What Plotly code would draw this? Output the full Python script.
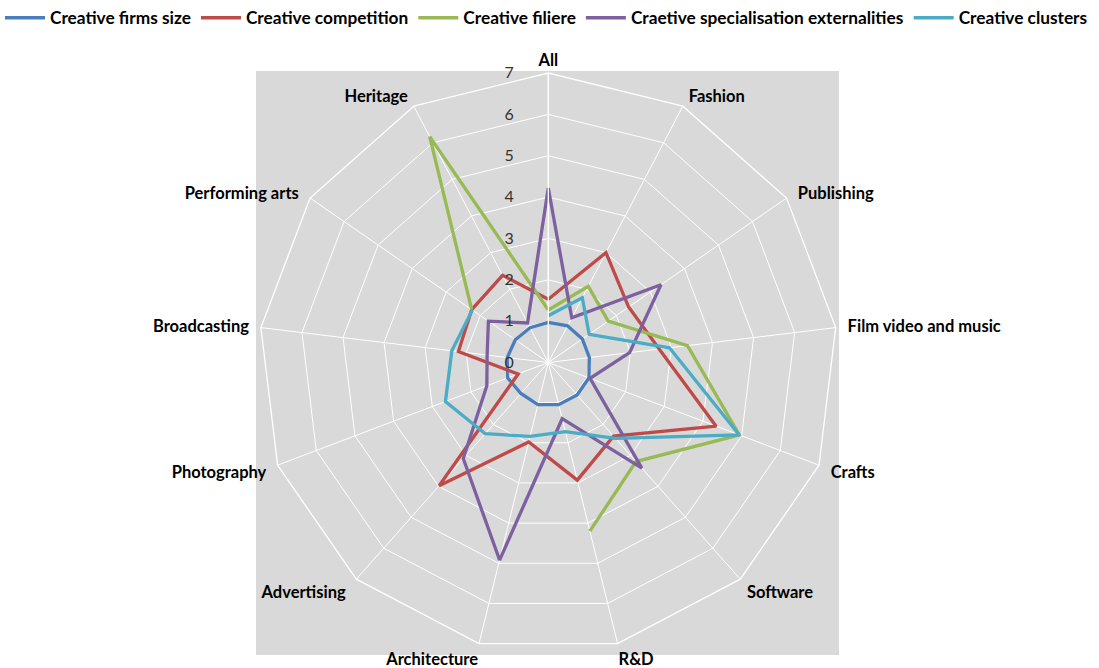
import plotly.graph_objects as go

categories = ["All", "Fashion", "Publishing", "Film video and music", "Crafts", "Software",
              "R&D", "Architecture", "Advertising", "Photography", "Broadcasting",
              "Performing arts", "Heritage"]

firms_size = [0.97, 1.0, 1.0, 1.0, 1.05, 1.05, 1.05, 1.05, 1.0, 1.05, 1.0, 0.97, 0.95]
competition = [1.53, 3.0, 2.36, 2.7, 4.34, 2.38, 2.93, 1.98, 3.98, 0.78, 2.19, 2.25, 2.38]
filiere = [1.27, 2.08, 1.76, 3.39, 4.94, 3.2, 4.2, None, None, None, None, 2.25, 6.17]
specialisation = [4.22, 1.22, 3.31, 1.98, 1.08, 3.41, 1.40, 4.92, 3.10, 1.59, 1.49, 1.76, 1.08]
clusters = [1.13, 1.77, 1.2, 2.95, 4.94, 2.45, 1.72, 1.84, 2.3, 2.66, 2.35, 2.23, None]

series_names = ["Creative firms size", "Creative competition", "Creative filiere",
                "Craetive specialisation externalities", "Creative clusters"]
series_values = [firms_size, competition, filiere, specialisation, clusters]
colors = ["#4A7EBB", "#BE4B48", "#98B954", "#7D60A0", "#4BACC6"]

radial_ticks = [0, 1, 2, 3, 4, 5, 6, 7]

# label padding (non-breaking spaces) so labels sit a little away from the web like Excel
NB = "\u00a0"
pad_right = {"Fashion": 1, "Publishing": 2, "Film video and music": 2, "Crafts": 2,
             "Software": 1, "R&D": 0}
pad_left = {"Heritage": 1, "Performing arts": 2, "Broadcasting": 2, "Photography": 2,
            "Advertising": 2, "Architecture": 0}
tick_text = []
for c in categories:
    if c in pad_right:
        tick_text.append(NB * pad_right[c] + c)
    elif c in pad_left:
        tick_text.append(c + NB * pad_left[c])
    else:
        tick_text.append(c)

radial_text = [str(v) + NB * 4 for v in radial_ticks]

fig = go.Figure()
for name, vals, col in zip(series_names, series_values, colors):
    r = list(vals) + [vals[0]]
    th = categories + [categories[0]]
    fig.add_trace(go.Scatterpolar(
        r=r, theta=th, mode="lines", name=name,
        line=dict(color=col, width=3.3),
        connectgaps=False,
    ))

W, H = 1099, 668
cx, cy, R = 548.3, 362.5, 289.5
fig.add_shape(type="rect", xref="paper", yref="paper",
              x0=256 / W, x1=839 / W, y0=1 - 655 / H, y1=1 - 71 / H,
              fillcolor="#D9D9D9", line=dict(width=0), layer="below")

fig.update_layout(
    width=W, height=H,
    margin=dict(l=0, r=0, t=0, b=0),
    paper_bgcolor="white",
    plot_bgcolor="white",
    font=dict(family="Lato", size=14, color="black"),
    showlegend=True,
    legend=dict(orientation="h", x=0.0, y=1.0, xanchor="left", yanchor="top",
                font=dict(family="Lato", size=17.3, color="black", weight="bold"),
                itemwidth=40, tracegroupgap=0, bgcolor="rgba(0,0,0,0)"),
    polar=dict(
        domain=dict(x=[(cx - R) / W, (cx + R) / W], y=[1 - (cy + R) / H, 1 - (cy - R) / H]),
        bgcolor="#D9D9D9",
        gridshape="linear",
        angularaxis=dict(
            direction="clockwise", rotation=90,
            categoryorder="array", categoryarray=categories,
            tickmode="array", tickvals=categories, ticktext=tick_text,
            showgrid=True, gridcolor="white", gridwidth=1.3,
            showline=True, linecolor="white", linewidth=1.3,
            ticks="",
            tickfont=dict(family="Lato", size=16.5, color="black", weight="bold"),
        ),
        radialaxis=dict(
            range=[0, 7], tickvals=radial_ticks, ticktext=radial_text,
            angle=90, tickangle=90, side="counterclockwise",
            showgrid=True, gridcolor="white", gridwidth=1.3,
            showline=True, linecolor="white", linewidth=1.3,
            ticks="outside", ticklen=12, tickcolor="rgba(0,0,0,0)",
            tickfont=dict(family="Lato", size=16, color="#333333"),
        ),
    ),
)

fig.write_html("out.html")
